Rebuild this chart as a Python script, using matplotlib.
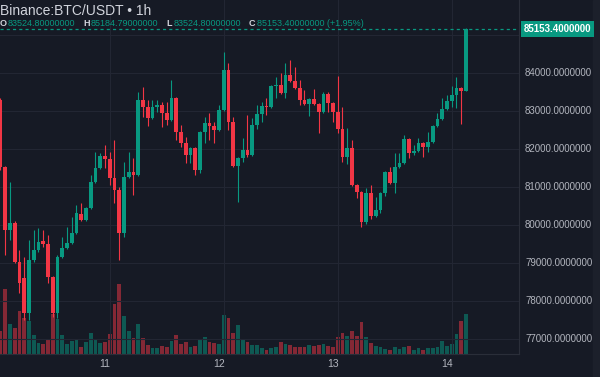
import matplotlib
matplotlib.use("Agg")
import matplotlib.pyplot as plt
from matplotlib.patches import Rectangle
import numpy as np
import pandas as pd

# hourly candles, Binance BTC/USDT, from 10th 02:00 to 14th 04:00
start = "2025-03-10 02:00"
opens = [83281, 81518, 79860, 80045, 79018, 78600, 77676, 79071, 79334, 79571,
         79500, 78624, 77676, 79150, 79387, 79518, 79781, 80281, 80123, 80439,
         81123, 81492, 81808, 81729, 81229, 80913, 79781, 81255, 81387, 81308,
         83281, 83097, 82808, 83097, 83150, 82939, 82755, 83334, 82439, 82150,
         81834, 82018, 81439, 82439, 82676, 82600, 82492, 83018, 84071, 82702,
         81545, 81755, 81966, 81834, 82624, 82913, 83123, 83100, 83650, 83676,
         83466, 83939, 83781, 83597, 83281, 83176, 83308, 83176, 82966, 83439,
         83202, 82966, 82518, 81781, 82018, 81045, 80860, 80071, 80834, 80229,
         80387, 80834, 81387, 81097, 81518, 81624, 82255, 81887, 81939, 82150,
         82045, 82176, 82597, 82781, 83045, 83255, 83413, 83597, 83524.8]
closes = [81518, 79860, 80045, 79018, 78466, 77676, 79071, 79334, 79545, 79500,
          78624, 77676, 79150, 79387, 79518, 79781, 80308, 80123, 80439, 81123,
          81492, 81808, 81729, 81229, 80913, 79781, 81255, 81387, 81308, 83281,
          83097, 82808, 83097, 83150, 82939, 82755, 83334, 82439, 82150, 81834,
          82018, 81439, 82439, 82676, 82600, 82492, 83018, 84071, 82702, 81545,
          81755, 81966, 81834, 82624, 82913, 83123, 83100, 83650, 83676, 83466,
          83939, 83781, 83597, 83281, 83176, 83308, 83176, 82966, 83439, 83202,
          82966, 82518, 81781, 82018, 81045, 80860, 80071, 80834, 80229, 80387,
          80834, 81387, 81097, 81518, 81624, 82255, 81887, 81939, 82150, 82045,
          82176, 82597, 82781, 83045, 83255, 83413, 83597, 83524.8, 85153.4]
highs = [83330, 81540, 81123, 80100, 79334, 79150, 79597, 79860, 79913, 79860,
         79729, 78650, 79203, 79676, 79939, 80202, 80518, 80571, 80470, 81308,
         81913, 81887, 82097, 81913, 82229, 81000, 81650, 81913, 81755, 83492,
         83623, 83281, 83281, 83281, 83229, 83229, 83808, 83360, 82624, 82300,
         82040, 82040, 82460, 82834, 82939, 82700, 83150, 84545, 84255, 82834,
         81780, 82281, 82887, 82808, 83150, 83229, 83334, 83680, 83887, 83992,
         84255, 84334, 84150, 83808, 83545, 83330, 83571, 83200, 83492, 83492,
         83230, 83913, 83097, 82545, 82229, 81070, 80880, 80966, 81045, 80729,
         80860, 81400, 81518, 81887, 81887, 82360, 82280, 82097, 82281, 82170,
         82439, 82620, 82939, 83334, 83413, 83650, 83887, 83620, 85184.79]
lows = [81440, 79203, 79597, 78980, 78203, 77492, 77480, 79018, 79280, 79410,
        78466, 77571, 77540, 79120, 79360, 79490, 79760, 80100, 80100, 80420,
        81100, 81470, 81492, 81045, 80571, 79071, 79676, 81230, 80781, 81280,
        82834, 82597, 82780, 82966, 82571, 82624, 82730, 82229, 82045, 81624,
        81624, 81308, 81360, 82150, 82229, 82150, 82460, 83000, 82492, 81520,
        80597, 81650, 81781, 81810, 82518, 82702, 82887, 83071, 83334, 83440,
        83334, 83760, 83570, 83150, 83150, 82860, 83150, 82413, 82940, 82966,
        82702, 82413, 81650, 81600, 81020, 80702, 79939, 80020, 80150, 80200,
        80308, 80755, 81080, 80834, 81500, 81600, 81755, 81834, 81920, 81781,
        81913, 82150, 82580, 82760, 83030, 83097, 83071, 82650, 83524.8]
volumes = [1150, 3250, 1500, 1300, 2150, 1800, 1650, 950, 550, 500,
           750, 2000, 1750, 950, 500, 650, 750, 350, 600, 1050,
           700, 550, 600, 1000, 2500, 3500, 1900, 1150, 800, 1500,
           800, 450, 300, 300, 400, 350, 650, 950, 500, 600,
           350, 400, 750, 850, 600, 550, 500, 1950, 1800, 1050,
           1450, 700, 600, 450, 450, 300, 200, 300, 350, 600,
           500, 450, 350, 350, 350, 450, 400, 450, 500, 400,
           350, 850, 1050, 900, 1150, 900, 1600, 850, 550, 400,
           350, 250, 200, 350, 250, 350, 400, 200, 300, 200,
           300, 300, 350, 650, 400, 500, 1000, 1650, 2000]

price_ticks = [77000, 78000, 79000, 80000, 81000, 82000, 83000, 84000]
last_close = 85153.4
header = [("O", "83524.80000000"), ("H", "85184.79000000"),
          ("L", "83524.80000000"), ("C", "85153.40000000 (+1.95%)")]

df = pd.DataFrame({"open": opens, "high": highs, "low": lows,
                   "close": closes, "volume": volumes},
                  index=pd.date_range(start, periods=len(opens), freq="h"))
df["x"] = np.arange(len(df))

bg = "#161a25"
up, down = "#089981", "#f23645"
grid = "#222633"
txt = "#b2b5be"

fig = plt.figure(figsize=(6, 3.77), dpi=100, facecolor=bg)
W, H = 600, 377
ax = fig.add_axes([0, (H - 354) / H, 519 / W, 354 / H])
axv = ax.twinx()
ax.set_zorder(axv.get_zorder() + 1)
ax.patch.set_visible(False)
axv.patch.set_facecolor(bg)

x0 = -0.1  # first candle sits at the very left edge
ax.set_xlim(x0, x0 + 519 / 4.75)
ax.set_ylim(76597, 85913)
axv.set_ylim(0, 354 * 50)

day_starts = df.index[df.index.hour == 0]
day_x = df.loc[day_starts, "x"].values
for yv in price_ticks + [85000]:
    ax.axhline(yv, color=grid, lw=0.8, zorder=0)
for xv in day_x:
    ax.axvline(xv + 1, color=grid, lw=0.8, zorder=0)

cols = np.where(df["close"] >= df["open"], up, down)
axv.bar(df["x"], df["volume"], width=0.8, color=cols, alpha=0.5, lw=0)

ax.vlines(df["x"], df["low"], df["high"], colors=cols, lw=0.8, zorder=2)
body_lo = np.minimum(df["open"], df["close"])
body_h = np.maximum(np.abs(df["close"] - df["open"]), 15)
ax.bar(df["x"], body_h, bottom=body_lo, width=0.8, color=cols, lw=0, zorder=3)

ax.axhline(last_close, color=up, lw=0.9, ls=(0, (2.5, 2.5)), zorder=1)

for a in (ax, axv):
    a.set_xticks([])
    a.set_yticks([])
    for s in a.spines.values():
        s.set_visible(False)

# panels: price scale, time scale, right strip
fig.patches.append(Rectangle((593 / W, 0), 7 / W, 1, transform=fig.transFigure,
                             color="#1c202b", zorder=-1))
fig.add_artist(plt.Line2D([519 / W, 519 / W], [(H - 354) / H, 1], color="#2a2e39",
                          lw=0.8, transform=fig.transFigure))
fig.add_artist(plt.Line2D([0, 519 / W], [(H - 354) / H] * 2, color="#2a2e39",
                          lw=0.8, transform=fig.transFigure))

fnt = "Liberation Sans"
for yv in price_ticks:
    ax.annotate(f"{yv:.7f}", xy=(1, yv), xycoords=("axes fraction", "data"),
                xytext=(6, 0), textcoords="offset pixels", va="center",
                ha="left", fontsize=7, color=txt, family=fnt, annotation_clip=False)
ax.annotate(f"{last_close:.7f}", xy=(1, last_close), xycoords=("axes fraction", "data"),
            xytext=(5, 0), textcoords="offset pixels", va="center", ha="left",
            fontsize=7, color="white", family=fnt, weight="bold",
            annotation_clip=False, zorder=10,
            bbox=dict(boxstyle="square,pad=0.3", fc=up, ec="none"))

for d, xv in zip(day_starts, day_x):
    ax.annotate(str(d.day), xy=(xv, 0), xycoords=("data", "axes fraction"),
                xytext=(0, -10), textcoords="offset pixels", ha="center",
                va="center", fontsize=7.5, color=txt, family=fnt,
                annotation_clip=False)

fig.text(0 / W, 1 - 11 / H, "Binance:BTC/USDT \u2022 1h", fontsize=10,
         color="#d1d4dc", family=fnt, va="center", ha="left")
hx = 0
for lab, val in header:
    fig.text(hx / W, 1 - 23.5 / H, lab, fontsize=6.5, color="#d1d4dc",
             family=fnt, weight="bold", va="center")
    fig.text((hx + 8) / W, 1 - 23.5 / H, val, fontsize=6.5, color=up,
             family=fnt, va="center")
    hx += 83

fig.savefig("out.png", dpi=100, facecolor=bg)
